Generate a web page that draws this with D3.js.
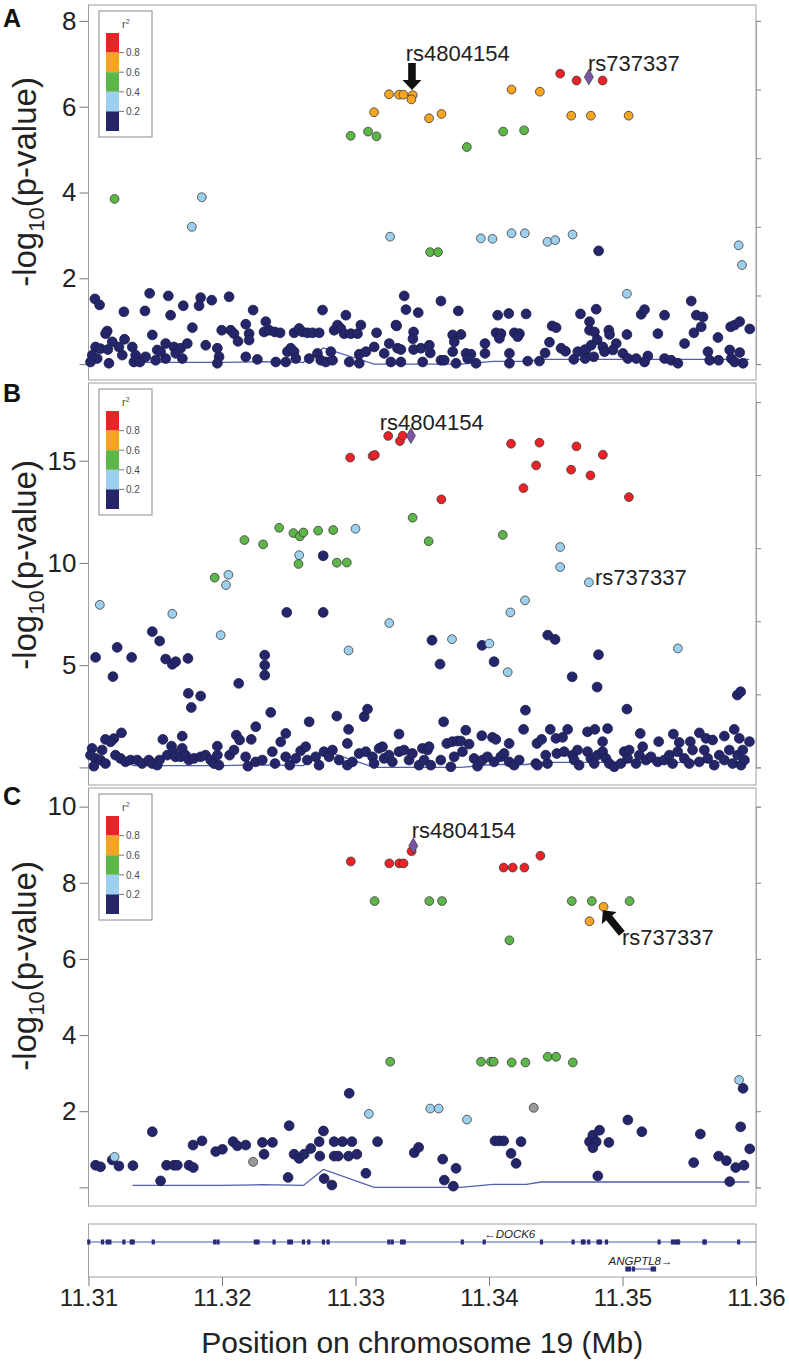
<!DOCTYPE html>
<html>
<head>
<meta charset="utf-8">
<script src="https://cdn.jsdelivr.net/npm/d3@7"></script>
<style>
  body { margin: 0; background: #fff; }
  svg { display: block; font-family: "Liberation Sans", Arial, sans-serif; }
</style>
</head>
<body>
<svg id="chart" width="789" height="1364"></svg>
<script>
// x axis (Mb on chr19)
const xDomain = [11.31, 11.36];
const xTicks = [11.31, 11.32, 11.33, 11.34, 11.35, 11.36];

// r2 legend
const ldClasses = ['red', 'orange', 'green', 'lightblue', 'navy'];
const ldLabels = ['0.8', '0.6', '0.4', '0.2'];

// recombination rate (cM/Mb), same track in every panel
const recombPos = [11.3133, 11.3200, 11.3230, 11.3261, 11.3276, 11.3314, 11.3379, 11.3403, 11.3428, 11.3439, 11.3595];
const recombRate = [0.5, 0.5, 0.7, 0.5, 4.7, 0.0, 0.0, 0.8, 0.8, 1.4, 1.4];

// ---------- panel A: [position Mb, -log10 p] ----------
const aNavy = [[11.31048,1.52],[11.31083,1.38],[11.31140,0.77],[11.31128,0.71],[11.31178,0.52],[11.31053,0.40],[11.31090,0.36],[11.31145,0.34],[11.31228,0.40],[11.31270,0.58],[11.31265,1.22],[11.31028,0.21],[11.31065,0.13],[11.31015,0.05],[11.31153,0.02],[11.31253,0.21],[11.31328,0.40],[11.31353,0.21],[11.31340,0.05],[11.31385,0.05],[11.31428,0.17],[11.31458,1.65],[11.31423,1.24],[11.31478,0.68],[11.31515,0.33],[11.31503,0.09],[11.31578,0.13],[11.31540,0.29],[11.31598,1.59],[11.31615,1.14],[11.31578,0.48],[11.31640,0.40],[11.31690,0.37],[11.31653,0.25],[11.31703,0.13],[11.31740,0.48],[11.31710,1.36],[11.31778,0.85],[11.31840,1.55],[11.31828,1.36],[11.31923,1.49],[11.31878,0.44],[11.31965,0.37],[11.31978,0.17],[11.31965,0.02],[11.32053,1.57],[11.31998,0.79],[11.32065,0.79],[11.32090,0.71],[11.32120,0.53],[11.32178,0.93],[11.32203,0.71],[11.32203,0.56],[11.32233,1.26],[11.32178,0.17],[11.32265,0.11],[11.32328,0.99],[11.32315,0.75],[11.32353,0.79],[11.32395,0.75],[11.32435,0.73],[11.32403,0.05],[11.32478,0.05],[11.32490,0.29],[11.32515,0.37],[11.32540,0.29],[11.32553,0.13],[11.32540,0.73],[11.32578,0.83],[11.32603,0.75],[11.32640,0.73],[11.32678,0.73],[11.32728,0.73],[11.32653,0.13],[11.32715,0.25],[11.32753,1.26],[11.32740,0.09],[11.32778,0.05],[11.32828,0.09],[11.32815,0.29],[11.32840,0.79],[11.32865,0.91],[11.32890,0.83],[11.32928,1.14],[11.32915,0.71],[11.32965,0.71],[11.33015,0.71],[11.33040,0.91],[11.32953,0.05],[11.33028,0.02],[11.33028,0.23],[11.33078,0.29],[11.33158,0.73],[11.33140,0.40],[11.33215,0.25],[11.33253,0.48],[11.33265,0.05],[11.33315,0.37],[11.33303,0.91],
  [11.33365,1.59],[11.33378,1.27],[11.33470,1.20],[11.33308,0.89],[11.33435,0.75],[11.33430,0.59],[11.33340,0.34],[11.33435,0.34],[11.33490,0.37],[11.33553,0.44],[11.33560,0.26],[11.33340,0.05],[11.33503,0.05],[11.33640,1.47],[11.33770,1.24],[11.33640,0.09],[11.33665,0.09],[11.33728,0.68],[11.33790,0.69],[11.33740,0.52],[11.33728,0.29],[11.33828,0.25],[11.33865,0.23],[11.33840,0.13],[11.33903,0.02],[11.33753,0.02],[11.33970,0.48],[11.33970,0.25],[11.34065,1.14],[11.34148,1.18],[11.34278,1.17],[11.34053,0.73],[11.34090,0.71],[11.34078,0.60],[11.34190,0.73],[11.34228,0.71],[11.34215,0.64],[11.34153,0.25],[11.34153,0.02],[11.34290,0.07],[11.34378,0.07],[11.34420,0.26],[11.34453,0.51],[11.34473,0.89],[11.34503,0.85],[11.34540,0.37],[11.34573,0.30],[11.34635,0.11],[11.34685,1.17],[11.34753,0.99],[11.34803,1.28],[11.34753,0.79],[11.34790,0.75],[11.34898,0.79],[11.34903,0.69],[11.34810,0.57],[11.34765,0.44],[11.34723,0.31],[11.34665,0.29],[11.34720,0.34],[11.34720,0.13],[11.34785,0.17],[11.34853,0.40],[11.34865,0.29],[11.34953,0.48],[11.34928,0.33],[11.35003,0.25],[11.35040,0.13],[11.35103,0.13],[11.35033,0.69],[11.35140,1.16],[11.35165,1.27],[11.35190,0.19],[11.35165,0.05],[11.35265,0.71],[11.35315,1.14],[11.35315,0.13],[11.35365,0.09],[11.35415,0.02],[11.35465,0.48],[11.35515,1.47],[11.35535,0.73],[11.35553,1.14],[11.35603,1.10],[11.35590,0.87],[11.35715,0.62],[11.35640,0.29],[11.35653,0.09],[11.35720,0.09],[11.35803,0.33],[11.35815,0.13],[11.35878,0.27],[11.35810,0.87],[11.35840,0.91],[11.35878,0.99],[11.35953,0.82],[11.35903,0.02],[11.35840,0.05],[11.34821,2.64]];
const aLightblue = [[11.31849,3.89],[11.31774,3.20],[11.33259,2.97],[11.33939,2.93],[11.34026,2.92],[11.34169,3.05],[11.34268,3.05],[11.34438,2.85],[11.34496,2.89],[11.34626,3.02],[11.35033,1.64],[11.35870,2.77],[11.35895,2.31]];
const aGreen = [[11.31195,3.85],[11.32964,5.32],[11.33094,5.42],[11.33157,5.31],[11.33834,5.06],[11.34106,5.42],[11.34263,5.45],[11.33559,2.61],[11.33618,2.61]];
const aOrange = [[11.33251,6.29],[11.33326,6.28],[11.33359,6.28],[11.33429,6.27],[11.33419,6.17],[11.33551,5.73],[11.33644,5.83],[11.34169,6.40],[11.34381,6.35],[11.34616,5.79],[11.34763,5.79],[11.35046,5.79],[11.33139,5.87]];
const aRed = [[11.34533,6.77],[11.34656,6.61],[11.34851,6.61]];
const aLead = [[11.34748,6.69]];

// ---------- panel B ----------
const bNavy = [[11.32758,10.35],[11.32485,7.58],[11.32758,7.58],[11.31053,5.38],[11.31183,4.44],[11.31215,5.87],[11.31323,5.38],[11.31478,6.64],[11.31533,6.18],[11.31578,5.30],[11.31628,5.04],[11.31653,5.17],[11.31745,5.33],[11.31748,3.62],[11.31770,2.93],[11.31840,3.49],[11.32125,4.11],[11.32320,5.49],[11.32320,5.00],[11.32320,4.51],[11.32365,2.69],[11.32653,2.23],[11.32860,2.51],[11.33065,2.48],[11.33090,2.85],[11.32948,1.86],[11.32253,1.99],[11.32478,1.66],[11.32440,1.25],[11.33573,6.22],[11.33633,5.05],[11.33948,5.97],[11.34038,5.17],[11.34440,6.47],[11.34495,6.26],[11.34820,5.51],[11.34623,4.43],[11.34810,3.93],[11.35860,3.54],[11.35885,3.70],[11.34273,2.80],[11.35033,2.85],[11.33660,2.23],[11.33326,1.63],
  [11.31247,1.69],[11.31190,1.41],[11.31127,1.37],[11.31165,1.25],[11.31027,0.93],[11.31015,0.60],[11.31052,0.44],[11.31102,0.85],[11.31090,0.36],[11.31040,0.06],[11.31127,0.19],[11.31202,0.60],[11.31240,0.44],[11.31277,0.27],[11.31315,0.36],[11.31365,0.36],[11.31402,0.19],[11.31452,0.36],[11.31477,0.19],[11.31515,0.11],[11.31532,0.36],[11.31557,1.37],[11.31590,0.60],[11.31622,1.04],[11.31632,0.77],[11.31652,0.52],[11.31690,0.52],[11.31702,1.53],[11.31702,0.93],[11.31727,0.60],[11.31752,0.36],[11.31790,0.44],[11.31840,0.52],[11.31877,0.60],[11.31915,0.36],[11.31940,0.19],[11.31965,1.04],[11.31965,0.60],[11.31977,0.11],[11.32057,0.60],[11.32090,0.85],[11.32107,1.58],[11.32132,1.34],[11.32177,0.52],[11.32194,0.06],[11.32219,1.37],[11.32252,0.27],[11.32302,0.36],[11.32377,0.77],[11.32397,0.19],[11.32477,0.52],[11.32507,0.11],[11.32552,0.44],[11.32589,0.81],[11.32627,1.01],[11.32639,0.36],[11.32702,0.52],[11.32727,0.11],[11.32764,0.77],[11.32802,0.52],[11.32827,0.85],[11.32877,0.36],[11.32939,1.17],[11.32939,0.11],[11.32977,0.27],[11.33027,0.68],[11.33077,0.77],[11.33127,0.52],[11.33139,0.19],[11.33177,0.93],[11.33202,1.01],[11.33214,0.44],[11.33251,0.60],[11.33276,0.27],[11.33326,0.77],[11.33364,0.85],[11.33401,0.36],[11.33426,0.68],[11.33476,0.11],[11.33501,0.93],
  [11.33826,1.82],[11.33946,1.55],[11.34026,1.47],[11.34051,1.37],[11.34151,1.17],[11.34259,1.86],[11.34359,1.17],[11.34394,1.37],[11.34459,1.86],[11.34501,1.42],[11.34551,1.47],[11.34589,1.86],[11.34738,1.74],[11.34793,1.86],[11.34851,1.26],[11.34888,1.90],[11.35133,1.66],[11.35151,1.01],[11.35271,1.26],[11.35381,1.63],[11.35425,1.22],[11.35508,1.26],[11.35576,1.69],[11.35626,1.42],[11.35675,1.34],[11.35763,1.53],[11.35837,1.86],[11.35951,1.26],[11.35875,1.42],[11.33539,0.85],[11.33551,1.01],[11.33514,0.36],[11.33564,0.11],[11.33639,0.36],[11.33684,1.17],[11.33726,1.26],[11.33764,1.29],[11.33789,1.29],[11.33851,1.14],[11.33739,0.52],[11.33801,0.77],[11.33714,0.03],[11.33888,0.44],[11.33914,0.06],[11.33951,0.36],[11.33988,0.52],[11.34038,0.27],[11.34088,0.52],[11.34113,0.68],[11.34151,0.27],[11.34188,0.11],[11.34226,0.36],[11.34351,0.19],[11.34363,0.11],[11.34425,0.60],[11.34438,0.19],[11.34508,0.68],[11.34563,0.77],[11.34626,0.60],[11.34663,0.85],[11.34638,0.36],[11.34675,0.11],[11.34738,0.77],[11.34763,0.44],[11.34788,0.19],[11.34813,0.60],[11.34851,0.77],[11.34876,0.44],[11.34901,0.19],[11.34938,0.03],[11.34988,0.19],[11.35013,0.77],[11.35050,0.85],[11.35038,0.44],[11.35101,0.19],[11.35126,0.60],[11.35176,0.36],[11.35213,0.52],[11.35263,0.27],[11.35313,0.36],[11.35351,0.60],[11.35375,0.19],[11.35413,0.77],[11.35463,0.44],[11.35500,0.19],[11.35525,0.85],[11.35575,0.27],[11.35613,0.85],[11.35638,0.44],[11.35687,0.11],[11.35725,0.60],[11.35763,0.36],[11.35800,0.85],[11.35825,0.19],[11.35863,0.60],[11.35888,0.11],[11.35913,0.36],[11.35901,0.85]];
const bLightblue = [[11.31085,7.95],[11.31628,7.51],[11.32048,9.42],[11.32030,8.92],[11.31990,6.47],[11.32578,10.38],[11.33000,11.67],[11.33253,7.06],[11.32948,5.72],[11.33723,6.27],[11.34003,6.06],[11.34160,7.58],[11.34270,8.17],[11.34140,4.66],[11.34533,10.78],[11.34533,9.80],[11.34748,9.05],[11.35415,5.82]];
const bGreen = [[11.31945,9.28],[11.32168,11.12],[11.32308,10.91],[11.32428,11.72],[11.32535,11.46],[11.32583,11.30],[11.32610,11.49],[11.32720,11.58],[11.32833,11.61],[11.32573,9.95],[11.32860,10.01],[11.32935,10.02],[11.33428,12.21],[11.33548,11.06],[11.34103,11.37]];
const bOrange = [];
const bRed = [[11.32960,15.15],[11.33128,15.23],[11.33145,15.28],[11.33245,16.21],[11.33333,15.96],[11.33353,16.22],[11.34165,15.83],[11.34378,15.88],[11.34655,15.70],[11.34853,15.29],[11.34353,14.77],[11.34615,14.56],[11.34760,14.28],[11.34258,13.66],[11.33643,13.11],[11.35048,13.22]];
const bLead = [[11.33415,16.22]];

// ---------- panel C ----------
const cNavy = [[11.31053,0.58],[11.31090,0.54],[11.31178,0.72],[11.31228,0.56],[11.31333,0.57],[11.31478,1.46],[11.31540,0.17],[11.31585,0.58],[11.31640,0.58],[11.31665,0.58],[11.31753,0.58],[11.31785,0.52],[11.31783,1.11],[11.31850,1.22],[11.31953,0.94],[11.32003,1.00],[11.32083,1.20],[11.32115,1.09],[11.32178,1.11],[11.32303,1.18],[11.32315,0.87],[11.32378,1.18],[11.32503,1.62],[11.32495,0.26],[11.32540,0.87],[11.32578,0.76],[11.32615,0.87],[11.32665,1.02],[11.32728,1.20],[11.32733,0.82],[11.32760,1.48],[11.32765,0.23],[11.32823,0.06],[11.32840,1.20],[11.32840,0.82],[11.32903,1.20],[11.32870,0.82],[11.32948,0.82],[11.32973,1.20],[11.33010,0.87],[11.32953,2.47],[11.33078,0.37],[11.33165,1.20],[11.33440,0.91],[11.33473,1.05],[11.33653,0.74],[11.33665,0.19],[11.33733,0.03],[11.33753,0.50],[11.34045,1.22],[11.34078,1.22],[11.34110,1.22],[11.34165,0.89],[11.34203,0.63],[11.34240,1.20],[11.34753,1.20],[11.34778,1.37],[11.34828,1.50],[11.34803,1.20],[11.34778,1.04],[11.34898,1.18],[11.34815,0.30],[11.35040,1.77],[11.35145,1.46],[11.35533,0.65],[11.35583,1.40],[11.35720,0.82],[11.35778,0.70],[11.35848,0.52],[11.35910,0.58],[11.35885,1.59],[11.35903,2.60],[11.35953,1.01],[11.35803,0.15]];
const cGray = [[11.32233,0.67],[11.34335,2.09]];
const cLightblue = [[11.31195,0.80],[11.33100,1.93],[11.33560,2.07],[11.33623,2.07],[11.33835,1.78],[11.35873,2.82]];
const cGreen = [[11.33143,7.52],[11.33260,3.30],[11.33553,7.52],[11.33648,7.52],[11.34153,6.49],[11.34620,7.52],[11.34770,7.52],[11.35053,7.52],[11.33940,3.30],[11.34015,3.30],[11.34035,3.30],[11.34170,3.28],[11.34273,3.28],[11.34440,3.43],[11.34503,3.43],[11.34628,3.28]];
const cOrange = [[11.34858,7.37],[11.34753,6.99]];
const cRed = [[11.32965,8.56],[11.33253,8.51],[11.33328,8.51],[11.33360,8.51],[11.33420,8.83],[11.34110,8.40],[11.34178,8.40],[11.34265,8.40],[11.34385,8.71]];
const cLead = [[11.33433,8.97]];

// SNP name labels [position, -log10 p, text] and arrows [tail, tip]
const aLabels = [[11.33376, 7.06, 'rs4804154'], [11.34741, 6.84, 'rs737337']];
const bLabels = [[11.33181, 16.48, 'rs4804154'], [11.34794, 8.92, 'rs737337']];
const cLabels = [[11.33421, 9.18, 'rs4804154'], [11.34996, 6.37, 'rs737337']];
const aArrows = [[[11.33423, 7.02], [11.33423, 6.39]]];
const cArrows = [[[11.34995, 6.67], [11.34853, 7.28]]];

// genes
const dock6Span = [11.31, 11.36];
const dock6Exons = [11.31002, 11.31105, 11.31140, 11.31160, 11.31265, 11.31320, 11.31335, 11.31485, 11.31945, 11.31970, 11.32250, 11.32270, 11.32390, 11.32500, 11.32520, 11.32610, 11.32650, 11.32760, 11.32795, 11.33250, 11.33275, 11.33345, 11.33365, 11.33800, 11.33964, 11.34393, 11.34630, 11.34700, 11.34712, 11.34747, 11.34817, 11.34835, 11.34880, 11.35274, 11.35374, 11.35392, 11.35410, 11.35420, 11.35610, 11.35620, 11.35870];
const angptl8Span = [11.35030, 11.35250];
const angptl8Exons = [11.35033, 11.35052, 11.35082, 11.35222, 11.35240];

const colors = {
  red: '#ec2227', orange: '#f7a423', green: '#5db648', lightblue: '#9dd0ef',
  navy: '#242669', gray: '#9a9a9a', lead: '#7c54a6'
};

const panels = [
  { id: 'A', top: 5, bottom: 380, domain: [-0.37, 8.37], ticks: [0, 2, 4, 6, 8], recombTop: 8, labelY: 182, letterY: 27,
    sets: { navy: aNavy, lightblue: aLightblue, green: aGreen, orange: aOrange, red: aRed }, gray: [], lead: aLead, labels: aLabels, arrows: aArrows },
  { id: 'B', top: 383, bottom: 785, domain: [-0.86, 18.8], ticks: [0, 5, 10, 15], recombTop: 17.87, labelY: 565, letterY: 402,
    sets: { navy: bNavy, lightblue: bLightblue, green: bGreen, orange: bOrange, red: bRed }, gray: [], lead: bLead, labels: bLabels, arrows: [] },
  { id: 'C', top: 788, bottom: 1206, domain: [-0.49, 10.49], ticks: [0, 2, 4, 6, 8, 10], recombTop: 10, labelY: 966, letterY: 805,
    sets: { navy: cNavy, lightblue: cLightblue, green: cGreen, orange: cOrange, red: cRed }, gray: cGray, lead: cLead, labels: cLabels, arrows: cArrows }
];

const left = 88.5, right = 756;
const svg = d3.select('#chart');
const x = d3.scaleLinear().domain(xDomain).range([left, right]);

// thick block arrow from tail to tip (pixel coords)
function arrowPath(x1, y1, x2, y2) {
  const dx = x2 - x1, dy = y2 - y1, len = Math.hypot(dx, dy);
  const ux = dx / len, uy = dy / len, px = -uy, py = ux;
  const bw = 3.8, hw = 9.5, hl = 10;
  const bx = x2 - ux * hl, by = y2 - uy * hl;
  const pts = [
    [x1 + px * bw, y1 + py * bw], [bx + px * bw, by + py * bw], [bx + px * hw, by + py * hw],
    [x2, y2],
    [bx - px * hw, by - py * hw], [bx - px * bw, by - py * bw], [x1 - px * bw, y1 - py * bw]
  ];
  return 'M' + pts.map(p => p.join(',')).join('L') + 'Z';
}

panels.forEach(p => {
  const y = d3.scaleLinear().domain(p.domain).range([p.bottom, p.top]);
  const yr = d3.scaleLinear().domain([0, 100]).range([y(0), y(p.recombTop)]);
  const g = svg.append('g');

  // frame
  g.append('rect')
    .attr('x', left).attr('y', p.top)
    .attr('width', right - left).attr('height', p.bottom - p.top)
    .attr('fill', '#fff').attr('stroke', '#a0a0a0').attr('stroke-width', 1);

  // left axis
  const ya = g.append('g')
    .attr('transform', `translate(${left},0)`)
    .call(d3.axisLeft(y).tickValues(p.ticks).tickSize(9).tickPadding(3).tickFormat(d => d === 0 ? '' : d));
  ya.select('.domain').remove();
  ya.selectAll('line').attr('stroke', '#777');
  ya.selectAll('text').attr('font-size', 26).attr('fill', '#222')
    .attr('font-family', '"Liberation Sans", Arial, sans-serif');

  // right axis (recombination rate, unlabeled)
  const ra = g.append('g')
    .attr('transform', `translate(${right},0)`)
    .call(d3.axisRight(yr).tickValues([0, 20, 40, 60, 80, 100]).tickSize(5).tickFormat(''));
  ra.select('.domain').attr('stroke', '#a0a0a0');
  ra.selectAll('line').attr('stroke', '#888');

  // recombination line
  g.append('path')
    .datum(recombPos.map((d, i) => [d, recombRate[i]]))
    .attr('fill', 'none').attr('stroke', '#5160ae').attr('stroke-width', 1.3)
    .attr('d', d3.line().x(d => x(d[0])).y(d => yr(d[1])));

  // points, low LD first
  const drawDots = (data, fill, r) => {
    g.append('g').selectAll('circle').data(data).join('circle')
      .attr('cx', d => x(d[0])).attr('cy', d => y(d[1])).attr('r', r)
      .attr('fill', fill)
      .attr('stroke', fill === colors.navy ? '#1a1c4e' : '#3a3a3a')
      .attr('stroke-width', 0.8);
  };
  drawDots(p.sets.navy, colors.navy, 4.9);
  drawDots(p.gray, colors.gray, 4.5);
  ['lightblue', 'green', 'orange', 'red'].forEach(k => drawDots(p.sets[k], colors[k], 4.4));

  g.append('g').selectAll('path').data(p.lead).join('path')
    .attr('transform', d => `translate(${x(d[0])},${y(d[1])})`)
    .attr('d', d3.symbol(d3.symbolDiamond, 70))
    .attr('fill', colors.lead).attr('stroke', '#3a3a3a').attr('stroke-width', 0.7);

  // SNP labels and arrows
  g.append('g').selectAll('text').data(p.labels).join('text')
    .attr('x', d => x(d[0])).attr('y', d => y(d[1]))
    .attr('font-size', 22).attr('fill', '#222').text(d => d[2]);
  g.append('g').selectAll('path').data(p.arrows).join('path')
    .attr('d', d => arrowPath(x(d[0][0]), y(d[0][1]), x(d[1][0]), y(d[1][1])))
    .attr('fill', '#111');

  // legend
  const lg = g.append('g').attr('transform', `translate(99,${p.top + 6})`);
  lg.append('rect').attr('width', 53).attr('height', 126)
    .attr('fill', '#fff').attr('stroke', '#8a8a8a').attr('stroke-width', 1);
  const segH = 19.6;
  const ly = d3.scaleBand().domain(ldClasses).range([22, 22 + segH * 5]);
  lg.selectAll('.seg').data(ldClasses).join('rect')
    .attr('x', 7).attr('y', d => ly(d)).attr('width', 13).attr('height', ly.bandwidth())
    .attr('fill', d => colors[d]);
  lg.selectAll('.tk').data(ldLabels).join('line')
    .attr('x1', 20).attr('x2', 25)
    .attr('y1', (d, i) => ly(ldClasses[i + 1])).attr('y2', (d, i) => ly(ldClasses[i + 1]))
    .attr('stroke', '#555').attr('stroke-width', 0.8);
  lg.selectAll('.lb').data(ldLabels).join('text')
    .attr('x', 27).attr('y', (d, i) => ly(ldClasses[i + 1]) + 3.8)
    .attr('font-size', 10).attr('fill', '#4a4a4a').text(d => d);
  const r2 = lg.append('text').attr('x', 23).attr('y', 17).attr('font-size', 11).attr('fill', '#4a4a4a');
  r2.append('tspan').text('r');
  r2.append('tspan').attr('font-size', 7).attr('dy', -4).text('2');

  // panel letter
  svg.append('text').attr('x', 3).attr('y', p.letterY)
    .attr('font-size', 25).attr('font-weight', 'bold').attr('fill', '#111').text(p.id);

  // y label
  const yl = svg.append('text')
    .attr('transform', `translate(36,${p.labelY}) rotate(-90)`)
    .attr('text-anchor', 'middle').attr('font-size', 33).attr('fill', '#222');
  yl.append('tspan').text('-log');
  yl.append('tspan').attr('font-size', 22).attr('dy', 8).text('10');
  yl.append('tspan').attr('dy', -8).text('(p-value)');
});

// gene track
const gTop = 1224, gBottom = 1277;
const gg = svg.append('g');
gg.append('rect').attr('x', left).attr('y', gTop)
  .attr('width', right - left).attr('height', gBottom - gTop)
  .attr('fill', '#fff').attr('stroke', '#a0a0a0');

const geneColor = '#2a2c78';
const dockY = 1242, angY = 1269;
gg.append('line').attr('x1', x(dock6Span[0])).attr('x2', x(dock6Span[1]))
  .attr('y1', dockY).attr('y2', dockY).attr('stroke', '#4f5aa6').attr('stroke-width', 1.1);
gg.selectAll('.ex1').data(dock6Exons).join('rect')
  .attr('x', d => x(d) - 1.6).attr('y', dockY - 2.5).attr('width', 3.2).attr('height', 5)
  .attr('fill', geneColor);
gg.append('line').attr('x1', x(angptl8Span[0])).attr('x2', x(angptl8Span[1]))
  .attr('y1', angY).attr('y2', angY).attr('stroke', '#4f5aa6').attr('stroke-width', 1.1);
gg.selectAll('.ex2').data(angptl8Exons).join('rect')
  .attr('x', d => x(d) - 1.6).attr('y', angY - 2.5).attr('width', 3.2).attr('height', 5)
  .attr('fill', geneColor);
gg.append('text').attr('x', x(11.34155)).attr('y', 1238).attr('text-anchor', 'middle')
  .attr('font-size', 11.5).attr('font-style', 'italic').attr('fill', '#222').text('\u2190DOCK6');
gg.append('text').attr('x', x(11.35135)).attr('y', 1265).attr('text-anchor', 'middle')
  .attr('font-size', 11.5).attr('font-style', 'italic').attr('fill', '#222').text('ANGPTL8\u2192');

// x axis
const xa = svg.append('g').attr('transform', `translate(0,${gBottom})`)
  .call(d3.axisBottom(x).tickValues(xTicks).tickSize(9).tickPadding(3).tickFormat(d3.format('.2f')));
xa.select('.domain').remove();
xa.selectAll('line').attr('stroke', '#777');
xa.selectAll('text').attr('font-size', 24).attr('fill', '#222')
  .attr('font-family', '"Liberation Sans", Arial, sans-serif');

svg.append('text').attr('x', (left + right) / 2).attr('y', 1353)
  .attr('text-anchor', 'middle').attr('font-size', 30).attr('fill', '#222')
  .text('Position on chromosome 19 (Mb)');
</script>
</body>
</html>
